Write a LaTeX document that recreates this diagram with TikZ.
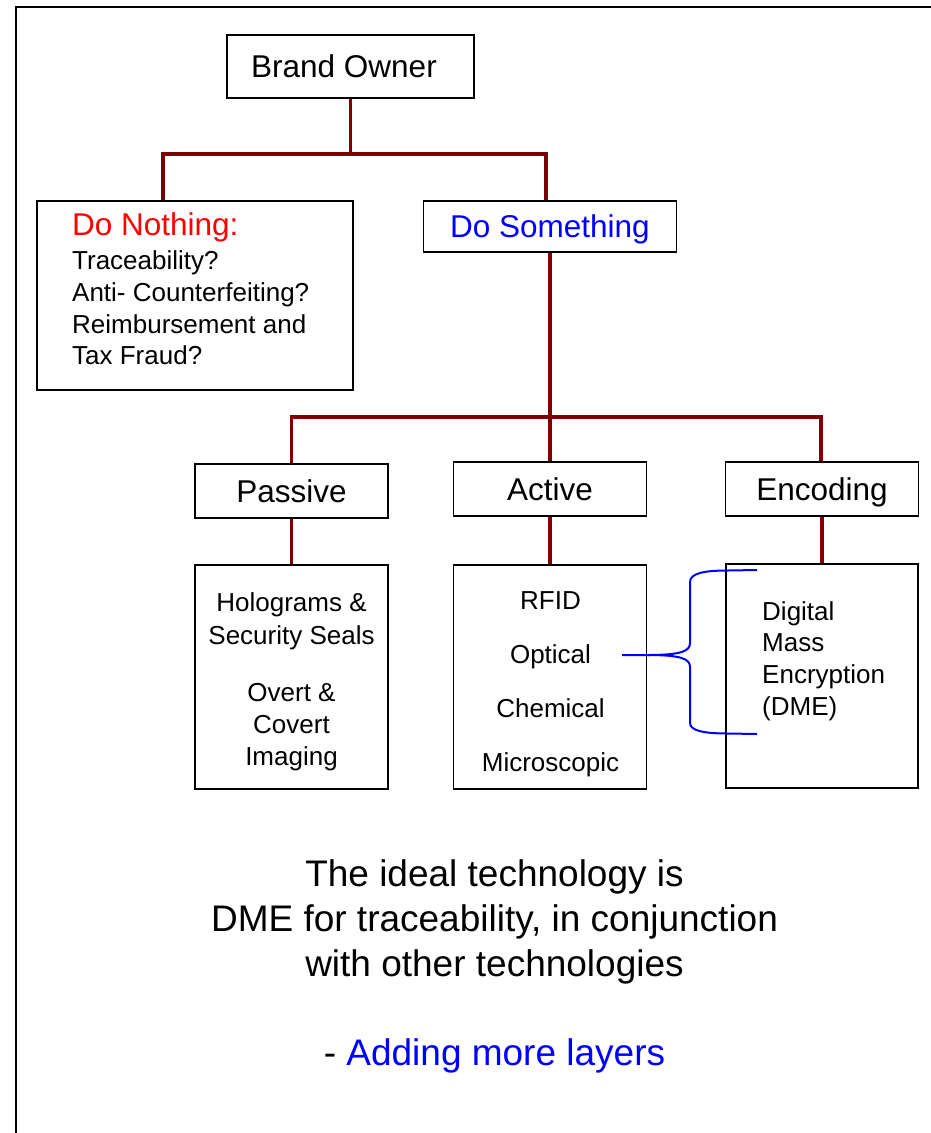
\documentclass[tikz,border=0pt]{standalone}
\usepackage{fontspec}
\setmainfont{Liberation Sans}
\definecolor{darkred}{HTML}{800000}

\begin{document}
\begin{tikzpicture}[
        x=1pt, y=-1pt,
        box/.style={draw, line width=1.6pt, inner sep=0pt},
        head/.style={box, font=\fontsize{31.5}{36}\selectfont, text height=28pt, text depth=6pt},
        item/.style={inner sep=0pt, font=\fontsize{26}{32}\selectfont},
        note/.style={inner sep=0pt, font=\fontsize{37}{42}\selectfont},
        link/.style={draw=darkred, line width=3.5pt},
        brace/.style={draw=blue, line width=2pt}
    ]
    
    \useasboundingbox (0,0) rectangle (931,1133);
    \draw[line width=2pt] (16,1140) -- (16,7) -- (940,7);
    
    % top of the tree
    \node[head, minimum width=247pt, minimum height=63pt] (owner) at (350.5,66.5) {Brand Owner\hspace*{13pt}};
    \node[box, minimum width=316pt, minimum height=189pt] (nothing) at (195,295.5) {};
    \node[head, text=blue, minimum width=253pt, minimum height=51pt] (something) at (550,226.5) {Do Something};
    
    \node[item, anchor=base west, text=red, font=\fontsize{31.5}{36}\selectfont] (nothing0) at (72,235) {Do Nothing:};
    \node[item, anchor=base west] (nothing1) at (72,269) {Traceability?};
    \node[item, anchor=base west] (nothing2) at (72,301) {Anti- Counterfeiting?};
    \node[item, anchor=base west] (nothing3) at (72,333) {Reimbursement and};
    \node[item, anchor=base west] (nothing4) at (72,364.5) {Tax Fraud?};
    
    % second level
    \node[head, minimum width=193pt, minimum height=54pt] (passive) at (291.5,491) {Passive};
    \node[head, minimum width=193pt, minimum height=54pt] (active) at (550,489) {Active};
    \node[head, minimum width=193pt, minimum height=54pt] (encoding) at (822,489) {Encoding};
    
    \node[box, minimum width=193pt, minimum height=224pt] (holo) at (291.5,677) {};
    \node[box, minimum width=193pt, minimum height=224pt] (methods) at (550,677) {};
    \node[box, minimum width=192pt, minimum height=224pt] (dme) at (822,676) {};
    
    \node[item, anchor=base] (holo1) at (291.5,611.5) {Holograms \&};
    \node[item, anchor=base] (holo2) at (291.5,644) {Security Seals};
    \node[item, anchor=base] (holo3) at (291.5,701.5) {Overt \&};
    \node[item, anchor=base] (holo4) at (291.5,733) {Covert};
    \node[item, anchor=base] (holo5) at (291.5,765) {Imaging};
    
    \node[item, anchor=base] (rfid) at (550.5,609) {RFID};
    \node[item, anchor=base] (optical) at (550.5,663) {Optical};
    \node[item, anchor=base] (chemical) at (550.5,717) {Chemical};
    \node[item, anchor=base] (micro) at (550.5,771.5) {Microscopic};
    
    \node[item, anchor=base west] (dme1) at (762,620) {Digital};
    \node[item, anchor=base west] (dme2) at (762,651) {Mass};
    \node[item, anchor=base west] (dme3) at (762,683) {Encryption};
    \node[item, anchor=base west] (dme4) at (762,715) {(DME)};
    
    % connectors
    \coordinate (splitA) at (163,154);
    \coordinate (splitB) at (546,154);
    \draw[link] (owner) -- (owner |- splitA);
    \draw[link] (splitA |- nothing.north) -- (splitA) -- (splitB) -- (splitB |- something.north);
    
    \coordinate (splitC) at (291.5,417);
    \coordinate (splitD) at (821,417);
    \draw[link] (something) -- (something |- splitC);
    \draw[link] (passive) -- (splitC) -- (splitD) -- (splitD |- encoding.north);
    \draw[link] (active |- splitC) -- (active);
    
    \draw[link] (passive) -- (holo);
    \draw[link] (active) -- (methods);
    \draw[link] (encoding) -- (dme);
    
    % brace from Optical to DME
    \coordinate (bstart) at (622,655);
    \coordinate (btip) at (647,655);
    \coordinate (btop) at (757,570);
    \coordinate (bbot) at (757,734);
    \draw[brace] (bstart) -- (btip) .. controls (682,655) and (690,651) .. (690,643) -- (690,582) .. controls (690,573) and (705,570.5) .. (728,570.5) -- (btop);
    \draw[brace] (btip) .. controls (682,655) and (690,659) .. (690,667) -- (690,723) .. controls (690,731) and (705,733.5) .. (728,733.5) -- (bbot);
    
    % conclusion
    \node[note, anchor=base] (idea1) at (494.5,886) {The ideal technology is};
    \node[note, anchor=base] (idea2) at (494.5,931) {DME for traceability, in conjunction};
    \node[note, anchor=base] (idea3) at (494.5,976) {with other technologies};
    \node[note, anchor=base] (layers) at (494.5,1065) {- \textcolor{blue}{Adding more layers}};
    
    \end{tikzpicture}
\end{document}
